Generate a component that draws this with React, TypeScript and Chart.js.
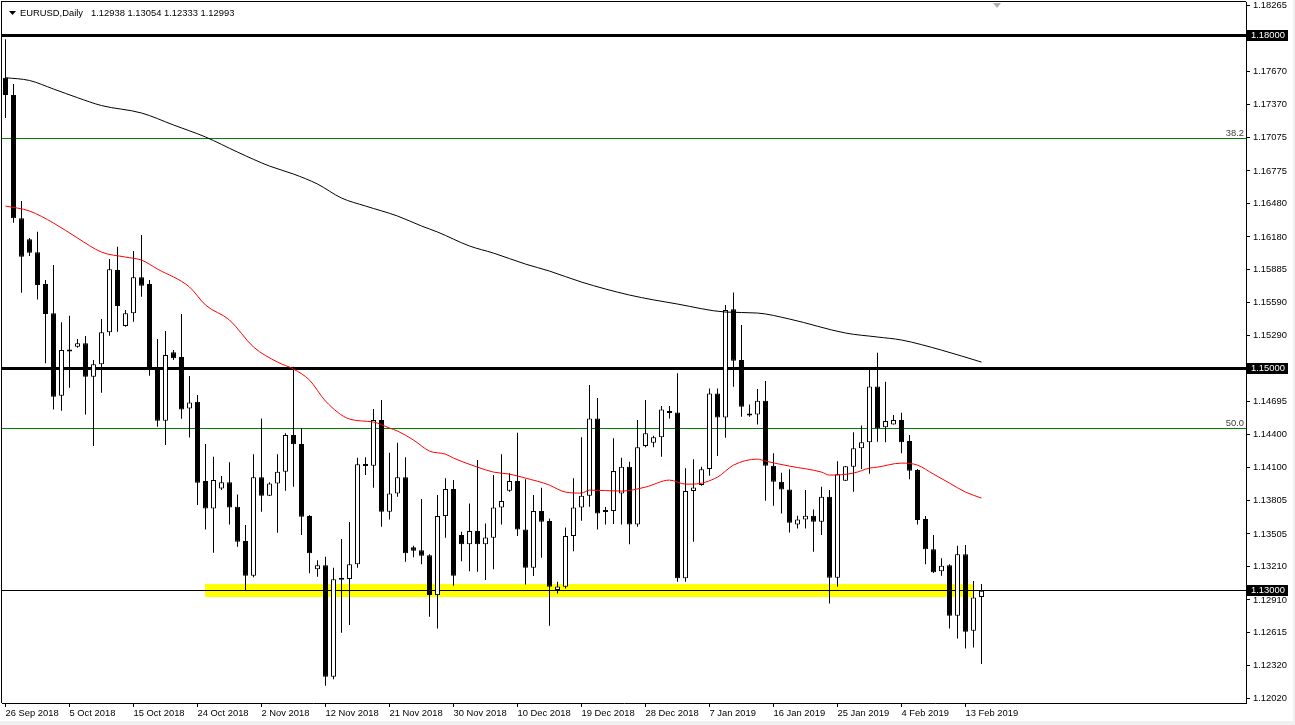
import React, { useEffect, useRef } from 'react';
import { Chart, registerables } from 'chart.js';

Chart.register(...registerables);

// ---------- data ----------
const symbolTitle = 'EURUSD,Daily';
const titleValues = '1.12938 1.13054 1.12333 1.12993';

const opens = [
  1.17615, 1.17459, 1.16348, 1.16159, 1.16042, 1.15756, 1.15492, 1.14750, 1.15161, 1.15191,
  1.15222, 1.14921, 1.15033, 1.15321, 1.15882, 1.15378, 1.15492, 1.15817, 1.15756, 1.14997,
  1.14525, 1.15141, 1.15098, 1.14636, 1.14696, 1.13981, 1.13735, 1.13915, 1.13970, 1.13750,
  1.13441, 1.13128, 1.14015, 1.13849, 1.13960, 1.14065, 1.14396, 1.14315, 1.13666, 1.13186,
  1.13224, 1.12218, 1.13107, 1.13098, 1.13231, 1.14125, 1.14119, 1.14531, 1.13705, 1.13870,
  1.14015, 1.13384, 1.13359, 1.13314, 1.12954, 1.13666, 1.13909, 1.13495, 1.13411, 1.13531,
  1.13411, 1.13470, 1.13744, 1.13894, 1.13981, 1.13546, 1.13200, 1.13711, 1.13621, 1.12999,
  1.13029, 1.13486, 1.13744, 1.13849, 1.14546, 1.13711, 1.13711, 1.13870, 1.14110, 1.13591,
  1.14297, 1.14326, 1.14375, 1.14607, 1.14600, 1.13105, 1.13891, 1.13945, 1.14089, 1.14771,
  1.14555, 1.15528, 1.15071, 1.14580, 1.14582, 1.14705, 1.14119, 1.13975, 1.13906, 1.13591,
  1.13636, 1.13669, 1.13615, 1.13840, 1.13110, 1.13984, 1.14110, 1.14276, 1.14330, 1.14834,
  1.14465, 1.14492, 1.14531, 1.14342, 1.14080, 1.13639, 1.13366, 1.13170, 1.13224, 1.12768,
  1.13321, 1.12632, 1.12938,
];
const highs = [
  1.17961, 1.17558, 1.16504, 1.16171, 1.16227, 1.15792, 1.15927, 1.15411, 1.15471, 1.15261,
  1.15288, 1.15071, 1.15441, 1.15981, 1.16092, 1.15522, 1.16053, 1.16198, 1.15792, 1.15261,
  1.15333, 1.15161, 1.15486, 1.14927, 1.14756, 1.14315, 1.14200, 1.14026, 1.14150, 1.13861,
  1.13585, 1.14224, 1.14546, 1.13970, 1.14224, 1.14411, 1.15011, 1.14456, 1.13675, 1.13269,
  1.13299, 1.13200, 1.13459, 1.13612, 1.14191, 1.14195, 1.14630, 1.14711, 1.14236, 1.14326,
  1.14195, 1.13398, 1.13819, 1.13323, 1.13855, 1.14006, 1.13990, 1.13524, 1.13780, 1.14170,
  1.13600, 1.14035, 1.14224, 1.14051, 1.14416, 1.13997, 1.13855, 1.13921, 1.13645, 1.13074,
  1.13564, 1.14006, 1.14375, 1.14846, 1.14729, 1.13747, 1.14366, 1.14191, 1.14155, 1.14531,
  1.14711, 1.14389, 1.14657, 1.14657, 1.14952, 1.14096, 1.14177, 1.14110, 1.14816, 1.14816,
  1.15567, 1.15681, 1.15387, 1.14672, 1.14810, 1.14882, 1.14231, 1.14056, 1.14087, 1.13669,
  1.13900, 1.13726, 1.13930, 1.13900, 1.14159, 1.14116, 1.14420, 1.14483, 1.14984, 1.15137,
  1.14876, 1.14576, 1.14597, 1.14396, 1.14089, 1.13666, 1.13495, 1.13285, 1.13233, 1.13398,
  1.13405, 1.13080, 1.13054,
];
const lows = [
  1.17252, 1.16308, 1.15678, 1.16008, 1.15618, 1.15042, 1.14627, 1.14615, 1.14822, 1.15182,
  1.14582, 1.14297, 1.14777, 1.15290, 1.15326, 1.15371, 1.15416, 1.15642, 1.14930, 1.14470,
  1.14306, 1.15071, 1.14543, 1.14373, 1.13765, 1.13546, 1.13335, 1.13900, 1.13591, 1.13389,
  1.12999, 1.13114, 1.13705, 1.13846, 1.13515, 1.13894, 1.13930, 1.13495, 1.13150, 1.13119,
  1.12137, 1.12197, 1.12614, 1.12684, 1.13200, 1.14035, 1.13921, 1.13569, 1.13636, 1.13840,
  1.13254, 1.13294, 1.13231, 1.12759, 1.12654, 1.13470, 1.13038, 1.13260, 1.13170, 1.13164,
  1.13089, 1.13188, 1.13591, 1.13885, 1.13486, 1.13050, 1.13125, 1.13290, 1.12677, 1.12969,
  1.13014, 1.13350, 1.13624, 1.13750, 1.13546, 1.13591, 1.13594, 1.13591, 1.13411, 1.13569,
  1.14285, 1.14285, 1.14200, 1.14546, 1.13074, 1.13074, 1.13434, 1.13939, 1.14029, 1.14206,
  1.14371, 1.14831, 1.14561, 1.14561, 1.14492, 1.13804, 1.13759, 1.13690, 1.13519, 1.13555,
  1.13555, 1.13344, 1.13495, 1.12879, 1.13029, 1.13981, 1.13885, 1.14089, 1.14047, 1.14335,
  1.14330, 1.14490, 1.14231, 1.13997, 1.13591, 1.13231, 1.13152, 1.13128, 1.12654, 1.12564,
  1.12474, 1.12483, 1.12333,
];
const closes = [
  1.17459, 1.16348, 1.16002, 1.16038, 1.15747, 1.15486, 1.14741, 1.15161, 1.15148, 1.15222,
  1.14921, 1.15033, 1.15321, 1.15889, 1.15558, 1.15492, 1.15817, 1.15741, 1.14997, 1.14525,
  1.15116, 1.15087, 1.14627, 1.14690, 1.13966, 1.13735, 1.13990, 1.13970, 1.13744, 1.13434,
  1.13128, 1.14015, 1.13849, 1.13960, 1.14065, 1.14396, 1.14312, 1.13660, 1.13330, 1.13222,
  1.12218, 1.13096, 1.13092, 1.13231, 1.14132, 1.14116, 1.14531, 1.13705, 1.13870, 1.14015,
  1.13330, 1.13353, 1.13308, 1.12954, 1.13666, 1.13909, 1.13128, 1.13411, 1.13531, 1.13411,
  1.13474, 1.13744, 1.13801, 1.13981, 1.13546, 1.13200, 1.13711, 1.13615, 1.13029, 1.13032,
  1.13486, 1.13744, 1.13849, 1.14546, 1.13690, 1.13702, 1.14071, 1.14110, 1.13591, 1.14285,
  1.14411, 1.14375, 1.14627, 1.14594, 1.13105, 1.13891, 1.13924, 1.14087, 1.14771, 1.14555,
  1.15522, 1.15065, 1.14651, 1.14571, 1.14705, 1.14119, 1.13975, 1.13906, 1.13605, 1.13636,
  1.13669, 1.13615, 1.13840, 1.13110, 1.14042, 1.14114, 1.14276, 1.14330, 1.14834, 1.14456,
  1.14522, 1.14531, 1.14330, 1.14074, 1.13630, 1.13366, 1.13159, 1.13218, 1.12768, 1.13321,
  1.12623, 1.12933, 1.12993,
];

// moving averages, read at selected bars
const maSlowBars = [0, 3, 6, 9, 12, 17, 21, 25, 29, 33, 36, 39, 42, 45, 49, 52, 54, 58, 61, 65, 68, 72, 78, 84, 90, 94, 98, 105, 109, 112, 117, 122];
const maSlowValues = [
  1.17615, 1.17590, 1.17513, 1.17435, 1.17364, 1.17297, 1.17189, 1.17081, 1.16945, 1.16819,
  1.16747, 1.16657, 1.16531, 1.16459, 1.16369, 1.16279, 1.16225, 1.16099, 1.16035, 1.15936,
  1.15873, 1.15774, 1.15657, 1.15576, 1.15504, 1.15495, 1.15441, 1.15315, 1.15279, 1.15252,
  1.15161, 1.15053,
];
const maFastBars = [
  0, 3, 6, 9, 12, 15, 17, 19, 23, 25, 28, 31, 34, 36, 38, 40, 43, 46, 48, 49,
  51, 53, 55, 56, 59, 61, 63, 65, 68, 69, 70, 72, 73, 77, 80, 83, 85, 86, 89, 91,
  94, 95, 98, 102, 103, 106, 108, 109, 112, 114, 116, 118, 120, 122,
];
const maFastValues = [
  1.16459, 1.16414, 1.16306, 1.16171, 1.16044, 1.15999, 1.15972, 1.15891, 1.15729, 1.15567,
  1.15432, 1.15189, 1.15053, 1.14990, 1.14891, 1.14702, 1.14540, 1.14513, 1.14459, 1.14432,
  1.14351, 1.14251, 1.14224, 1.14188, 1.14107, 1.14062, 1.14044, 1.14008, 1.13945, 1.13909,
  1.13882, 1.13873, 1.13900, 1.13891, 1.13927, 1.13990, 1.13954, 1.13954, 1.14017, 1.14125,
  1.14179, 1.14161, 1.14116, 1.14062, 1.14035, 1.14053, 1.14098, 1.14107, 1.14143, 1.14125,
  1.14044, 1.13963, 1.13882, 1.13828,
];

const dateTickBars = [0, 8, 16, 24, 32, 40, 48, 56, 64, 72, 80, 88, 96, 104, 112, 120];
const dateTickLabels = [
  '26 Sep 2018', '5 Oct 2018', '15 Oct 2018', '24 Oct 2018', '2 Nov 2018', '12 Nov 2018',
  '21 Nov 2018', '30 Nov 2018', '10 Dec 2018', '19 Dec 2018', '28 Dec 2018', '7 Jan 2019',
  '16 Jan 2019', '25 Jan 2019', '4 Feb 2019', '13 Feb 2019',
];
const priceTicks = [
  1.18265, 1.17965, 1.1767, 1.1737, 1.17075, 1.16775, 1.1648, 1.1618, 1.15885, 1.1559, 1.1529,
  1.14995, 1.14695, 1.144, 1.141, 1.13805, 1.13505, 1.1321, 1.1291, 1.12615, 1.1232, 1.1202,
];
const priceMin = 1.11982;
const priceMax = 1.18297;

const keyLevels = [1.18, 1.15, 1.13];
const fibLevels = [1.17069, 1.14456];
const fibLabels = ['38.2', '50.0'];
const zoneTop = 1.13055;
const zoneBottom = 1.12935;
const zoneFromBar = 24.9;
const zoneToBar = 121.1;

// ---------- styles ----------
const FONT = '"Liberation Sans", Arial, sans-serif';
const FONT_SIZE = 9.4;
const keyLevelWidths = [3, 3, 1];
const BAR_PX = 8;
const X_MIN = -0.4375;
const X_MAX = X_MIN + 1244 / BAR_PX;

const mtPlugin = {
  id: 'mt4look',
  beforeDraw(chart: any) {
    const { ctx, width, height } = chart;
    ctx.save();
    ctx.fillStyle = '#ffffff';
    ctx.fillRect(0, 0, width, height);
    ctx.fillStyle = '#f0f0f0';
    ctx.fillRect(0, 721, width, height - 721);
    ctx.fillRect(1293, 0, width - 1293, height);
    ctx.restore();
  },
  beforeDatasetsDraw(chart: any) {
    const { ctx, chartArea: a, scales } = chart;
    const x = scales.x;
    const y = scales.y;
    ctx.save();
    ctx.beginPath();
    ctx.rect(a.left, a.top, a.right - a.left, a.bottom - a.top);
    ctx.clip();
    const zx1 = Math.round(x.getPixelForValue(zoneFromBar));
    const zx2 = Math.round(x.getPixelForValue(zoneToBar));
    const zy1 = Math.round(y.getPixelForValue(zoneTop));
    const zy2 = Math.round(y.getPixelForValue(zoneBottom));
    ctx.fillStyle = '#ffff00';
    ctx.fillRect(zx1, zy1, zx2 - zx1, zy2 - zy1);
    ctx.fillStyle = '#008000';
    fibLevels.forEach((v) => {
      const py = Math.round(y.getPixelForValue(v));
      ctx.fillRect(a.left, py, a.right - a.left, 1);
    });
    ctx.fillStyle = '#000000';
    keyLevels.forEach((v, k) => {
      const py = Math.round(y.getPixelForValue(v));
      const w = keyLevelWidths[k];
      ctx.fillRect(a.left, py - Math.floor(w / 2), a.right - a.left, w);
    });
    ctx.restore();
  },
  afterDraw(chart: any) {
    const { ctx, chartArea: a, scales } = chart;
    const y = scales.y;
    ctx.save();
    // frame top & left
    ctx.fillStyle = '#000000';
    ctx.fillRect(a.left - 1, a.top - 1, a.right - a.left + 1, 1);
    ctx.fillRect(a.left - 1, a.top - 1, 1, a.bottom - a.top + 1);
    // fib labels
    ctx.font = `${FONT_SIZE}px ${FONT}`;
    ctx.textAlign = 'right';
    ctx.textBaseline = 'alphabetic';
    ctx.fillStyle = '#404040';
    fibLevels.forEach((v, k) => {
      const py = Math.round(y.getPixelForValue(v));
      ctx.fillText(fibLabels[k], a.right - 2, py - 2);
    });
    // key level price boxes on the axis
    ctx.textAlign = 'left';
    ctx.textBaseline = 'middle';
    keyLevels.forEach((v) => {
      const py = Math.round(y.getPixelForValue(v));
      ctx.fillStyle = '#000000';
      ctx.fillRect(a.right + 1, py - 5, 41, 11);
      ctx.fillStyle = '#ffffff';
      ctx.fillText(v.toFixed(5), a.right + 5, py + 0.5);
    });
    // title
    ctx.fillStyle = '#000000';
    ctx.beginPath();
    ctx.moveTo(9, 11);
    ctx.lineTo(16, 11);
    ctx.lineTo(12.5, 15);
    ctx.closePath();
    ctx.fill();
    ctx.fillText(symbolTitle, 20, 13);
    ctx.fillText(titleValues, 91, 13);
    // chart shift marker
    ctx.fillStyle = '#b0b0b0';
    ctx.beginPath();
    ctx.moveTo(993, 3);
    ctx.lineTo(1001, 3);
    ctx.lineTo(997, 8);
    ctx.closePath();
    ctx.fill();
    ctx.restore();
  },
};

export default function App() {
  const ref = useRef<HTMLCanvasElement>(null);
  useEffect(() => {
    document.body.style.margin = '0';
    const canvas = ref.current;
    if (!canvas) return;
    const idx = opens.map((_, i) => i);
    const wickData = idx.map((i) => ({ x: i, y: [lows[i], highs[i]] }));
    const bodyData = idx.map((i) => ({ x: i, y: [opens[i], closes[i]] }));
    const bodyColors = idx.map((i) => (closes[i] >= opens[i] ? '#ffffff' : '#000000'));
    const chart = new Chart(canvas, {
      type: 'bar',
      data: {
        datasets: [
          {
            type: 'line',
            label: 'MA fast',
            data: maFastBars.map((b, k) => ({ x: b, y: maFastValues[k] })),
            borderColor: '#ff0000',
            borderWidth: 1,
            pointRadius: 0,
            cubicInterpolationMode: 'monotone',
            order: 0,
          } as any,
          {
            type: 'line',
            label: 'MA slow',
            data: maSlowBars.map((b, k) => ({ x: b, y: maSlowValues[k] })),
            borderColor: '#000000',
            borderWidth: 1,
            pointRadius: 0,
            cubicInterpolationMode: 'monotone',
            order: 0,
          } as any,
          {
            type: 'bar',
            label: 'body',
            data: bodyData,
            backgroundColor: bodyColors,
            borderColor: '#000000',
            borderWidth: 1,
            borderSkipped: false,
            barThickness: 5,
            minBarLength: 2,
            grouped: false,
            inflateAmount: 0,
            order: 1,
          } as any,
          {
            type: 'bar',
            label: 'wick',
            data: wickData,
            backgroundColor: '#000000',
            borderWidth: 0,
            barThickness: 1,
            grouped: false,
            inflateAmount: 0,
            order: 2,
          } as any,
        ],
      },
      options: {
        animation: false,
        responsive: false,
        devicePixelRatio: 1,
        events: [],
        layout: { autoPadding: false, padding: { left: 2, top: 2, right: 0, bottom: 0 } },
        plugins: { legend: { display: false }, tooltip: { enabled: false }, title: { display: false } },
        scales: {
          x: {
            type: 'linear',
            min: X_MIN,
            max: X_MAX,
            offset: false,
            grid: { display: true, drawOnChartArea: false, drawTicks: true, tickLength: 4, color: '#000000', offset: false },
            border: { display: true, color: '#000000', width: 1 },
            ticks: {
              autoSkip: false,
              maxRotation: 0,
              align: 'start',
              padding: 1,
              color: '#000000',
              font: { family: FONT, size: FONT_SIZE },
              callback: (_v: any, i: number) => dateTickLabels[i],
            },
            afterBuildTicks: (scale: any) => {
              scale.ticks = dateTickBars.map((v) => ({ value: v }));
            },
            afterFit: (scale: any) => {
              scale.height = 22;
              scale.paddingLeft = 0;
              scale.paddingRight = 0;
            },
          },
          y: {
            type: 'linear',
            position: 'right',
            min: priceMin,
            max: priceMax,
            beginAtZero: false,
            grid: { display: true, drawOnChartArea: false, drawTicks: true, tickLength: 4, color: '#000000' },
            border: { display: true, color: '#000000', width: 1 },
            ticks: {
              autoSkip: false,
              padding: 3,
              color: '#000000',
              font: { family: FONT, size: FONT_SIZE },
              callback: (v: any) => Number(v).toFixed(5),
            },
            afterBuildTicks: (scale: any) => {
              scale.ticks = priceTicks.map((v) => ({ value: v }));
            },
            afterFit: (scale: any) => {
              scale.width = 49;
              scale.paddingTop = 0;
              scale.paddingBottom = 0;
            },
          },
        },
      } as any,
      plugins: [mtPlugin],
    });
    return () => chart.destroy();
  }, []);
  return <canvas ref={ref} width={1295} height={725} style={{ display: 'block', width: 1295, height: 725 }} />;
}
